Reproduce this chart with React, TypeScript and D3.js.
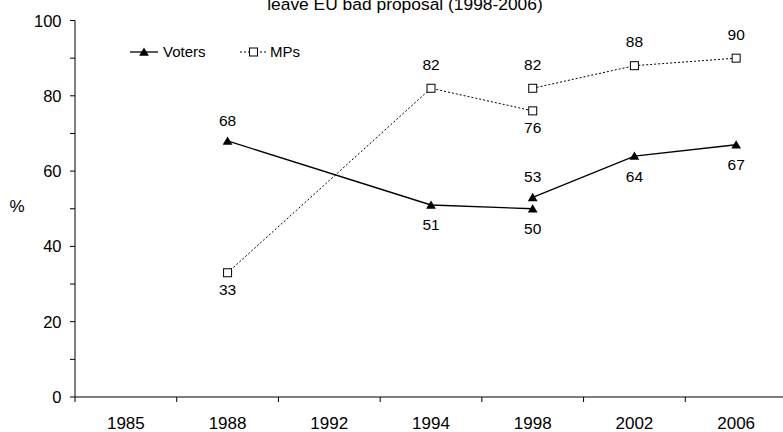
import React from "react";
import * as d3 from "d3";

const categories = ["1985", "1988", "1992", "1994", "1998", "2002", "2006"];
const yTicks = [0, 20, 40, 60, 80, 100];

const votersEarlyYears = ["1988", "1994", "1998"];
const votersEarly = [68, 51, 50];
const votersLateYears = ["1998", "2002", "2006"];
const votersLate = [53, 64, 67];

const mpsEarlyYears = ["1988", "1994", "1998"];
const mpsEarly = [33, 82, 76];
const mpsLateYears = ["1998", "2002", "2006"];
const mpsLate = [82, 88, 90];

const title = "leave EU bad proposal (1998-2006)";

const W = 783;
const H = 432;
const FONT = "Arial, 'Liberation Sans', Helvetica, sans-serif";

export default function App() {
  const x = d3.scaleBand<string>().domain(categories).range([75, 787]);
  const y = d3.scaleLinear().domain([0, 100]).range([397, 20.5]);
  const cx = (c: string) => (x(c) as number) + x.bandwidth() / 2;

  const line = d3
    .line<[string, number]>()
    .x((d) => cx(d[0]))
    .y((d) => y(d[1]));

  const zip = (a: string[], b: number[]) => a.map((c, i) => [c, b[i]] as [string, number]);

  const vE = zip(votersEarlyYears, votersEarly);
  const vL = zip(votersLateYears, votersLate);
  const mE = zip(mpsEarlyYears, mpsEarly);
  const mL = zip(mpsLateYears, mpsLate);

  // label placement per point: true = above
  const vEPos = [true, false, false];
  const vLPos = [true, false, false];
  const mEPos = [false, true, false];
  const mLPos = [true, true, true];

  const tri = "M0,-4.6L4.9,3.8L-4.9,3.8Z";

  const label = (
    d: [string, number],
    above: boolean,
    key: string,
    upOff: number,
    downOff: number
  ) => (
    <text
      key={key}
      x={cx(d[0])}
      y={above ? y(d[1]) - upOff : y(d[1]) + downOff}
      textAnchor="middle"
      fontSize={15.5}
      fontFamily={FONT}
      fill="#000"
    >
      {d[1]}
    </text>
  );

  const minorTicks = d3.range(0, 101, 10);

  const square = (px: number, py: number, key: string) => (
    <rect
      key={key}
      x={px - 4}
      y={py - 4}
      width={8}
      height={8}
      fill="#fff"
      stroke="#000"
      strokeWidth={1}
    />
  );

  return (
    <svg
      width={W}
      height={H}
      style={{ position: "absolute", left: 0, top: 0, background: "#fff" }}
    >
      <rect x={0} y={0} width={W} height={H} fill="#fff" />
      <text x={405} y={9.5} textAnchor="middle" fontSize={17.4} fontFamily={FONT}>
        {title}
      </text>

      {/* Y axis */}
      <line x1={75} x2={75} y1={y(100)} y2={y(0)} stroke="#000" strokeWidth={1} />
      {minorTicks.map((t) => (
        <line key={"yt" + t} x1={70} x2={75} y1={y(t)} y2={y(t)} stroke="#000" strokeWidth={1} />
      ))}
      {yTicks.map((t) => (
        <text
          key={"yl" + t}
          x={61.5}
          y={y(t) + 6}
          textAnchor="end"
          fontSize={16.5}
          fontFamily={FONT}
        >
          {t}
        </text>
      ))}
      <text x={17} y={211.5} textAnchor="middle" fontSize={17} fontFamily={FONT}>
        %
      </text>

      {/* X axis */}
      <line x1={75} x2={787} y1={y(0)} y2={y(0)} stroke="#000" strokeWidth={1} />
      {categories.map((c) => (
        <line
          key={"xt" + c}
          x1={x(c) as number}
          x2={x(c) as number}
          y1={y(0)}
          y2={y(0) + 5}
          stroke="#000"
          strokeWidth={1}
        />
      ))}
      {categories.map((c) => (
        <text
          key={"xl" + c}
          x={cx(c)}
          y={429}
          textAnchor="middle"
          fontSize={17}
          fontFamily={FONT}
        >
          {c}
        </text>
      ))}

      {/* MPs */}
      {[mE, mL].map((s, i) => (
        <path key={"mp" + i} d={line(s) as string} fill="none" stroke="#000" strokeWidth={1} strokeDasharray="2,2" />
      ))}
      {[...mE, ...mL].map((d, i) => square(cx(d[0]), y(d[1]), "ms" + i))}

      {/* Voters */}
      {[vE, vL].map((s, i) => (
        <path key={"vp" + i} d={line(s) as string} fill="none" stroke="#000" strokeWidth={1.3} />
      ))}
      {[...vE, ...vL].map((d, i) => (
        <path key={"vs" + i} d={tri} transform={`translate(${cx(d[0])},${y(d[1])})`} fill="#000" />
      ))}

      {/* Labels */}
      {vE.map((d, i) => label(d, vEPos[i], "vel" + i, 15, 25.5))}
      {vL.map((d, i) => label(d, vLPos[i], "vll" + i, 15, 25.5))}
      {mE.map((d, i) => label(d, mEPos[i], "mel" + i, 18.3, 22.6))}
      {mL.map((d, i) => label(d, mLPos[i], "mll" + i, 18.3, 22.6))}

      {/* Legend */}
      <line x1={130} x2={158} y1={52} y2={52} stroke="#000" strokeWidth={1.3} />
      <path d={tri} transform="translate(144,52)" fill="#000" />
      <text x={163} y={57} fontSize={15} fontFamily={FONT}>
        Voters
      </text>
      <line x1={240} x2={267} y1={52} y2={52} stroke="#000" strokeWidth={1} strokeDasharray="2,2" />
      {square(253.5, 52, "legsq")}
      <text x={270} y={57} fontSize={15} fontFamily={FONT}>
        MPs
      </text>
    </svg>
  );
}
